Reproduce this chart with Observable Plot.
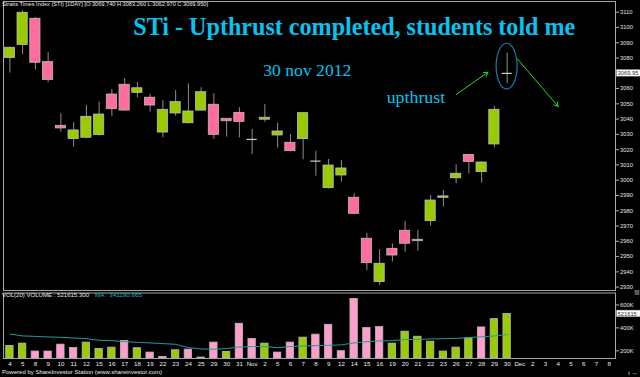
<!DOCTYPE html>
<html>
<head>
<meta charset="utf-8">
<script src="https://cdn.jsdelivr.net/npm/d3@7"></script>
<script src="https://cdn.jsdelivr.net/npm/@observablehq/plot@0.6"></script>
<style>
  html, body { margin: 0; padding: 0; background: #000; }
  #chart { position: relative; width: 640px; height: 377px; overflow: hidden; background: #000; }
  #chart > svg { position: absolute; left: 0; }
</style>
</head>
<body>
<div id="chart"></div>
<script>
// Axis slots: 40 trading days (Oct 4 – Nov 30, 2012) followed by 8 empty days of December
const slotLabels = ["4","5","8","9","10","11","12","15","16","17","18","19","22","23","24","25","29","30","31",
  "Nov","2","5","6","7","8","9","12","14","15","16","19","20","21","22","23","26","27","28","29","30",
  "Dec","2","3","4","5","6","7","8"];

// Daily OHLC of the Straits Times Index
const open  = [3080.0,3088.6,3105.7,3077.3,3035.6,3026.9,3027.8,3029.5,3056.1,3062.5,3057.2,3054.0,3031.2,3043.7,3037.3,3045.6,3049.4,3040.2,3044.1,
  3026.7,3039.6,3029.3,3024.5,3026.9,3012.5,2994.8,3003.1,2988.5,2961.7,2933.3,2955.1,2966.9,2961.0,2973.2,2988.5,3001.3,3016.6,3005.3,3023.4,3069.74];
const high  = [3087.0,3111.0,3106.5,3083.6,3043.5,3037.6,3048.9,3051.1,3059.4,3066.6,3064.0,3056.1,3052.2,3058.7,3063.1,3060.5,3056.6,3040.4,3047.4,
  3033.2,3049.6,3037.3,3029.9,3044.3,3019.0,3013.6,3012.9,2991.1,2965.3,2954.5,2958.4,2973.0,2967.1,2990.0,2993.3,3010.1,3016.8,3012.0,3048.3,3083.26];
const low   = [3070.1,3082.1,3072.3,3063.8,3031.4,3021.6,3027.2,3029.0,3041.7,3045.3,3054.0,3044.5,3027.8,3041.9,3036.8,3045.2,3026.7,3028.2,3027.8,
  3016.8,3038.0,3021.0,3018.6,3013.4,3002.6,2994.3,2998.7,2977.6,2940.9,2931.1,2946.4,2952.9,2953.4,2969.9,2982.4,2997.7,3004.2,2998.1,3021.2,3062.97];
const close = [3086.7,3109.6,3076.9,3065.7,3033.9,3032.6,3041.5,3043.0,3046.5,3045.6,3060.2,3048.9,3046.1,3051.1,3045.0,3057.6,3029.7,3038.6,3038.2,
  3026.7,3040.9,3031.9,3019.0,3043.9,3012.5,3009.6,3007.7,2978.0,2945.7,2945.3,2950.7,2958.4,2960.1,2986.7,2989.4,3004.2,3012.0,3011.6,3046.1,3069.95];

// Daily volume and its 20-day moving average
const volume   = [243000,263000,194000,194000,254000,226000,272000,217000,228000,286000,223000,185000,148000,205000,211000,142000,272000,191000,436000,
  304000,263000,185000,272000,315000,341000,427000,197000,652000,399000,407000,263000,367000,323000,280000,194000,228000,309000,404000,476000,521615.3];
const volumeMA = [347000,330000,326000,321000,318000,312000,306000,292000,289000,280000,274000,269000,263000,257000,228000,217000,214000,220000,234000,
  237000,237000,228000,237000,243000,246000,248000,252000,269000,280000,286000,289000,298000,300000,304000,306000,309000,315000,323000,330000,341190.665];

const priceTicks  = [2930,2940,2950,2960,2970,2980,2990,3000,3010,3020,3030,3040,3050,3060,3070,3080,3090,3100,3110];
const volumeTicks = [200000, 400000, 600000];

// Annotation arrows (slot index, price)
const arrowNotes = [
  {x1: 35.0, y1: 3056.1, x2: 37.5, y2: 3070.7},
  {x1: 39.8, y1: 3079.5, x2: 43.0, y2: 3048.3}
];
const ringedSlot = 39, ringedPrice = 3074.4;

const GREEN = "#99cc00", PINK = "#ff6c9e", PINK_VOL = "#ff9dcc", DOJI = "#d0d0d0";

const days = open.map((o, i) => ({
  i, open: o, high: high[i], low: low[i], close: close[i],
  volume: volume[i], ma: volumeMA[i],
  doji: Math.abs(close[i] - o) < 0.25,
  up: close[i] >= o,
  volUp: i === 0 || close[i] >= close[i - 1]
}));
const bodies = days.filter(d => !d.doji);
const dojis = days.filter(d => d.doji);
const last = days[days.length - 1];

const W = 640;
const slotDomain = [-0.5, slotLabels.length - 0.5];
const font = "'Liberation Sans', Arial, sans-serif";

// Tick labels that sit under a last-value box are left blank
const priceLabel = d => Math.abs(d - last.close) < 5 ? "" : String(d);
const volumeLabel = d => Math.abs(d - last.volume) < 40000 ? "" : d / 1000 + "K";

// Price panel
const price = Plot.plot({
  width: W, height: 291,
  marginLeft: 3, marginRight: 25, marginTop: 1, marginBottom: 1,
  style: {background: "transparent", color: "#e4e4e4", fontFamily: font, fontSize: "5.8px"},
  x: {domain: slotDomain, axis: null},
  y: {domain: [2927.8, 3117.0], axis: null},
  marks: [
    Plot.axisY(priceTicks, {anchor: "right", tickSize: 3, tickPadding: 1.5, stroke: "#b0b0b0", fill: "#e4e4e4",
      fontSize: 5.8, tickFormat: priceLabel}),
    Plot.ruleX(days, {x: "i", y1: "low", y2: "high", stroke: "#8e8e8e", strokeWidth: 1}),
    Plot.rect(bodies, {
      x1: d => d.i - 0.4, x2: d => d.i + 0.4, y1: "open", y2: "close",
      fill: d => d.up ? GREEN : PINK, stroke: "#bdbdbd", strokeWidth: 0.8
    }),
    Plot.ruleY(dojis, {y: "close", x1: d => d.i - 0.4, x2: d => d.i + 0.4, stroke: DOJI, strokeWidth: 1.2}),
    Plot.arrow(arrowNotes, {x1: "x1", y1: "y1", x2: "x2", y2: "y2", stroke: "#22dd22", strokeWidth: 1, headLength: 7}),
    Plot.frame({stroke: "#a6a6a6"})
  ]
});
price.style.top = "0px";
document.getElementById("chart").appendChild(price);

// Volume panel
const volFloor = 133500;
const vol = Plot.plot({
  width: W, height: 86,
  marginLeft: 3, marginRight: 25, marginTop: 1.5, marginBottom: 19,
  style: {background: "transparent", color: "#e4e4e4", fontFamily: font, fontSize: "5.8px"},
  x: {domain: slotDomain, axis: null},
  y: {domain: [volFloor, 703700], axis: null},
  marks: [
    Plot.axisY(volumeTicks, {anchor: "right", tickSize: 3, tickPadding: 1.5, stroke: "#b0b0b0", fill: "#e4e4e4",
      fontSize: 5.8, tickFormat: volumeLabel}),
    Plot.axisX(d3.range(slotLabels.length), {anchor: "bottom", tickSize: 0, tickPadding: 3.4,
      tickFormat: i => slotLabels[i], fill: "#ececec", fontSize: 6.2}),
    Plot.rect(days, {
      x1: d => d.i - 0.29, x2: d => d.i + 0.29, y1: () => volFloor, y2: "volume",
      fill: d => d.volUp ? GREEN : PINK_VOL, stroke: "#b8b8b8", strokeWidth: 0.8
    }),
    Plot.line(days, {x: "i", y: "ma", stroke: "#229c9c", strokeWidth: 1}),
    Plot.frame({stroke: "#a6a6a6"})
  ]
});
vol.style.top = "291px";
document.getElementById("chart").appendChild(vol);

// Overlay: headers, notes, ring and last-value boxes
const xP = price.scale("x"), yP = price.scale("y"), yV = vol.scale("y");
const ov = d3.select("#chart").append("svg")
  .attr("width", W).attr("height", 377)
  .style("top", "0px").style("pointer-events", "none");

const f3 = d3.format(".3f");
ov.append("text").attr("x", 2).attr("y", 6.3)
  .attr("font-family", font).attr("font-size", 5.8).attr("fill", "#e8e8e8")
  .attr("textLength", 206).attr("lengthAdjust", "spacingAndGlyphs")
  .text(`Straits Times Index (STI) [1DAY] [O:${f3(last.open)} H:${f3(last.high)} L:${f3(last.low)} C:${f3(last.close)}]`);

ov.append("text").attr("x", 2).attr("y", 297.3)
  .attr("font-family", font).attr("font-size", 5.8).attr("fill", "#e8e8e8")
  .attr("textLength", 87).attr("lengthAdjust", "spacingAndGlyphs")
  .text(`VOL(20)  VOLUME : ${f3(last.volume)}`);
ov.append("text").attr("x", 95).attr("y", 297.3)
  .attr("font-family", font).attr("font-size", 5.8).attr("fill", "#1fb8b8")
  .attr("textLength", 47).attr("lengthAdjust", "spacingAndGlyphs")
  .text(`MA : ${f3(last.ma)}`);

ov.append("text").attr("x", 2).attr("y", 373.5)
  .attr("font-family", font).attr("font-size", 5.8).attr("fill", "#e8e8e8")
  .attr("textLength", 160).attr("lengthAdjust", "spacingAndGlyphs")
  .text("Powered by ShareInvestor Station (www.shareinvestor.com)");

const cyan = "#06c4ef";
const serif = "'Liberation Serif', 'Times New Roman', serif";
ov.append("text").attr("x", 133.3).attr("y", 35)
  .attr("font-family", serif).attr("font-weight", "bold").attr("font-size", 26).attr("fill", cyan)
  .attr("textLength", 442).attr("lengthAdjust", "spacingAndGlyphs")
  .text("STi - Upthrust completed, students told me");
ov.append("text").attr("x", 263.3).attr("y", 75.7)
  .attr("font-family", serif).attr("font-size", 17.5).attr("fill", cyan)
  .attr("textLength", 88).attr("lengthAdjust", "spacingAndGlyphs")
  .text("30 nov 2012");
ov.append("text").attr("x", 386.7).attr("y", 103.3)
  .attr("font-family", serif).attr("font-size", 17.5).attr("fill", cyan)
  .attr("textLength", 58.5).attr("lengthAdjust", "spacingAndGlyphs")
  .text("upthrust");

// Ring round the last candle
ov.append("ellipse")
  .attr("cx", xP.apply(ringedSlot)).attr("cy", yP.apply(ringedPrice))
  .attr("rx", 10.5).attr("ry", 22.8)
  .attr("fill", "none").attr("stroke", "#1a7aa2").attr("stroke-width", 1.2);

// Last-value boxes on the right axes
function valueBox(cy, label) {
  ov.append("rect").attr("x", 616.5).attr("y", cy - 3.3).attr("width", 24).attr("height", 6.6)
    .attr("fill", "#ffffff").attr("stroke", "#999").attr("stroke-width", 0.5);
  ov.append("text").attr("x", 617.5).attr("y", cy + 2.1)
    .attr("font-family", font).attr("font-size", 5.8).attr("fill", "#333")
    .text(label);
}
valueBox(yP.apply(last.close), d3.format(".2f")(last.close));
valueBox(291 + yV.apply(last.volume), String(Math.floor(last.volume)));

// Small panel toggle glyph at the divider
ov.append("rect").attr("x", 635).attr("y", 290.5).attr("width", 4).attr("height", 4)
  .attr("fill", "#555").attr("stroke", "#888").attr("stroke-width", 0.5);
</script>
</body>
</html>
